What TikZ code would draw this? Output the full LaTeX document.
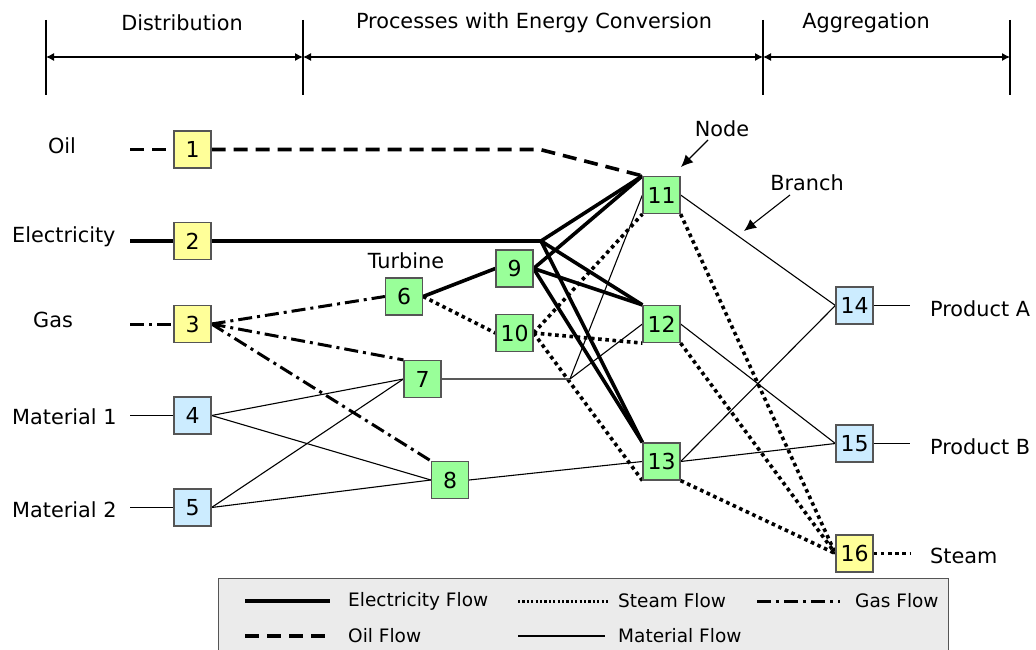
\documentclass[tikz,border=0pt]{standalone}
\usepackage{fontspec}
\setmainfont{DejaVu Sans}
\usetikzlibrary{arrows.meta,backgrounds}
\definecolor{ylw}{HTML}{FFFF99}
\definecolor{grn}{HTML}{99FF99}
\definecolor{blu}{HTML}{CCECFF}
\definecolor{bord}{HTML}{555555}
\definecolor{legfill}{HTML}{EBEBEB}
\begin{document}
\begin{tikzpicture}[x=1pt,y=-1pt,
  txt/.style={font=\fontsize{20.8}{24}\selectfont, inner sep=0pt},
  legtxt/.style={font=\fontsize{18.5}{22}\selectfont, inner sep=0pt, anchor=west},
  box/.style={draw=bord, line width=1.2pt, minimum size=37pt, inner sep=0pt, font=\fontsize{22}{24}\selectfont},
  ybox/.style={box, fill=ylw},
  gbox/.style={box, fill=grn},
  bbox/.style={box, fill=blu},
  elec/.style={line width=3.6pt, line join=round},
  steam/.style={line width=3.6pt, dash pattern=on 3.6pt off 3.6pt},
  gas/.style={line width=3pt, dash pattern=on 14pt off 5pt on 3pt off 5pt},
  oil/.style={line width=3.6pt, dash pattern=on 14pt off 8pt},
  mat/.style={line width=1.1pt},
  hdr/.style={line width=1.1pt},
  pointer/.style={line width=1.1pt, -{Latex[length=12pt,width=11pt]}}
]
\useasboundingbox (0,0) rectangle (1036,650);

% header
\node[txt] (hd1) at (182,23) {Distribution};
\node[txt] (hd2) at (534,23) {Processes with Energy Conversion};
\node[txt] (hd3) at (866,23) {Aggregation};
\foreach \x/\n in {46/a,303/b,763/c,1010/d}{
  \coordinate (t\n) at (\x,20);
  \coordinate (b\n) at (\x,95);
  \coordinate (m\n) at (\x,57);
  \draw[hdr] (t\n) -- (b\n);
}
\draw[hdr, {Latex[length=8pt,width=8pt]}-{Latex[length=8pt,width=8pt]}] (ma) -- (mb);
\draw[hdr, {Latex[length=8pt,width=8pt]}-{Latex[length=8pt,width=8pt]}] (mb) -- (mc);
\draw[hdr, {Latex[length=8pt,width=8pt]}-{Latex[length=8pt,width=8pt]}] (mc) -- (md);

% side labels
\node[txt] (lOil) at (62,146) {Oil};
\node[txt, anchor=west] (lEl) at (12,237) {Electricity};
\node[txt] (lGas) at (53,320) {Gas};
\node[txt, anchor=west] (lM1) at (12,417) {Material 1};
\node[txt, anchor=west] (lM2) at (12,510) {Material 2};
\node[txt, anchor=west] (lPA) at (930,309) {Product A};
\node[txt, anchor=west] (lPB) at (930,447) {Product B};
\node[txt, anchor=west] (lSt) at (930,556) {Steam};
\node[txt] (lTurb) at (406,261) {Turbine};
\node[txt] (lNode) at (722,129) {Node};
\node[txt] (lBranch) at (807,183) {Branch};

% boxes
\node[ybox] (n1) at (192.5,149.5) {1};
\node[ybox] (n2) at (192.5,241) {2};
\node[ybox] (n3) at (192.5,324) {3};
\node[bbox] (n4) at (192.5,415.5) {4};
\node[bbox] (n5) at (192.5,507.5) {5};
\node[gbox] (n6) at (404,296.5) {6};
\node[gbox] (n7) at (422.5,379) {7};
\node[gbox] (n8) at (450,480) {8};
\node[gbox] (n9) at (514.5,268.5) {9};
\node[gbox] (n10) at (514.5,333) {10};
\node[gbox] (n11) at (661.5,195) {11};
\node[gbox] (n12) at (661.5,324) {12};
\node[gbox] (n13) at (661.5,461.5) {13};
\node[bbox] (n14) at (854.5,305.5) {14};
\node[bbox] (n15) at (854.5,443.5) {15};
\node[ybox] (n16) at (854.5,553.5) {16};

% free ends
\coordinate (oilL) at (130,149.5);
\coordinate (oilJ) at (540,149.5);
\coordinate (elL) at (130,241);
\coordinate (J) at (541,241);
\coordinate (gasL) at (130,324);
\coordinate (m1L) at (130,415.5);
\coordinate (m2L) at (130,507.5);
\coordinate (K) at (570,379);
\coordinate (pAR) at (910,305.5);
\coordinate (pBR) at (910,443.5);
\coordinate (stR) at (910,553.5);

\begin{pgfonlayer}{background}
% oil
\draw[oil] (oilL) -- (n1.west);
\draw[oil] (n1.east) -- (oilJ) -- (n11.north west);
% electricity
\draw[elec] (elL) -- (n2.west);
\draw[elec] (n2.east) -- (J);
\draw[elec] (J) -- (n11.north west);
\draw[elec] (J) -- (n12.north west);
\draw[elec] (J) -- (n13.north west);
\draw[elec] (n6.east) -- (n9.west);
\draw[elec] (n9.east) -- (n11.north west);
\draw[elec] (n9.east) -- (n12.north west);
\draw[elec] (n9.east) -- (n13.north west);
% steam
\draw[steam] (n6.east) -- (n10.west);
\draw[steam] (n10.east) -- (n11.south west);
\draw[steam] (n10.east) -- (n12.south west);
\draw[steam] (n10.east) -- (n13.south west);
\draw[steam] (n11.south east) -- (n16.west);
\draw[steam] (n12.south east) -- (n16.west);
\draw[steam] (n13.south east) -- (n16.west);
\draw[steam] (n16.east) -- (stR);
% gas
\draw[gas] (gasL) -- (n3.west);
\draw[gas] (n3.east) -- (n6.west);
\draw[gas] (n3.east) -- (n7.north west);
\draw[gas] (n3.east) -- (n8.north west);
% material
\draw[mat] (m1L) -- (n4.west);
\draw[mat] (m2L) -- (n5.west);
\draw[mat] (n4.east) -- (n7.west);
\draw[mat] (n4.east) -- (n8.west);
\draw[mat] (n5.east) -- (n7.west);
\draw[mat] (n5.east) -- (n8.west);
\draw[mat, draw=black!65] (n7.east) -- (K);
\draw[mat] (K) -- (n11.west);
\draw[mat] (K) -- (n12.west);
\draw[mat] (n8.east) -- (n13.west);
\draw[mat] (n11.east) -- (n14.west);
\draw[mat] (n13.east) -- (n14.west);
\draw[mat] (n12.east) -- (n15.west);
\draw[mat] (n13.east) -- (n15.west);
\draw[mat] (n14.east) -- (pAR);
\draw[mat] (n15.east) -- (pBR);
\end{pgfonlayer}

% pointers
\coordinate (nodeS) at (708,140);
\coordinate (nodeE) at (681,167);
\coordinate (brS) at (790,195);
\coordinate (brE) at (744,231);
\draw[pointer] (nodeS) -- (nodeE);
\draw[pointer] (brS) -- (brE);

% legend
\node[draw=bord, line width=1.2pt, fill=legfill, minimum width=730pt, minimum height=90pt, anchor=north west, inner sep=0pt] (leg) at (218,578) {};
\coordinate (le1a) at (245,601); \coordinate (le1b) at (330,601);
\coordinate (le2a) at (518,601); \coordinate (le2b) at (610,601);
\coordinate (le3a) at (757,601); \coordinate (le3b) at (840,601);
\coordinate (le4a) at (245,636); \coordinate (le4b) at (330,636);
\coordinate (le5a) at (518,636); \coordinate (le5b) at (605,636);
\draw[elec] (le1a) -- (le1b);
\draw[line width=3pt, dash pattern=on 2.2pt off 2.2pt] (le2a) -- (le2b);
\draw[gas] (le3a) -- (le3b);
\draw[oil] (le4a) -- (le4b);
\draw[mat] (le5a) -- (le5b);
\node[legtxt] (lt1) at (348,601) {Electricity Flow};
\node[legtxt] (lt2) at (618,601) {Steam Flow};
\node[legtxt] (lt3) at (855,601) {Gas Flow};
\node[legtxt] (lt4) at (348,636) {Oil Flow};
\node[legtxt] (lt5) at (618,636) {Material Flow};
\end{tikzpicture}
\end{document}
